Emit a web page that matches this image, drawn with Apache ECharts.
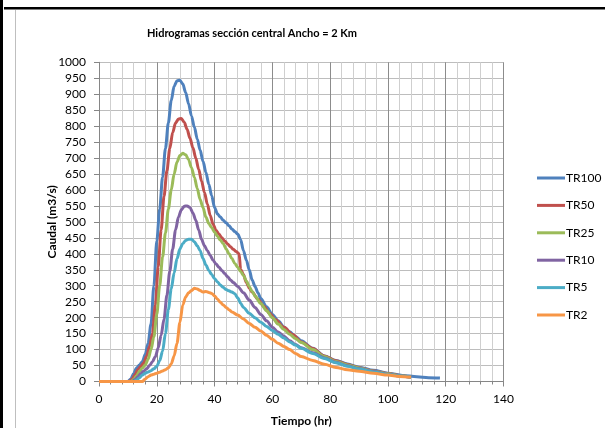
<!DOCTYPE html>
<html><head><meta charset="utf-8">
<script src="https://cdn.jsdelivr.net/npm/echarts@6/dist/echarts.min.js"></script>
<style>html,body{margin:0;padding:0;background:#fff}#c{width:605px;height:428px}</style>
</head><body><div id="c"></div>
<script>
const titleText = 'Hidrogramas sección central Ancho = 2 Km';
const xTitle = 'Tiempo (hr)';
const yTitle = 'Caudal (m3/s)';
const seriesNames = ['TR100', 'TR50', 'TR25', 'TR10', 'TR5', 'TR2'];
const seriesColors = ['#4F81BD', '#C0504D', '#9BBB59', '#8064A2', '#4BACC6', '#F79646'];

const tr100T = [0,10,11,12,13,14,15,16,17,18,19,20,21,22,23,24,25,26,27,28,29,30,31,32,33,34,35,36,37,38,39,40,41,42,43,44,45,46,47,48,49,50,51,52,53,54,55,56,58,60,62,64,66,68,70,74,78,82,86,90,95,100,105,110,114,118];
const tr100Q = [0,0,8,25,42,52,62,85,120,180,300,440,540,640,730,810,880,925,942,944,932,905,870,832,797,760,725,690,655,618,582,545,525,515,505,497,488,478,470,462,445,410,380,350,318,298,278,260,234,210,190,171,156,141,128,104,80,66,55,45,35,26,19,15,12,11];

const tr50T = [0,10.5,11.5,12.5,13.5,14.5,15.5,16.5,17.5,18.5,19.5,20.5,21.5,22.5,23.5,24.5,25.5,26.5,27.5,28.5,29.5,30.5,31.5,32.5,33.5,34.5,35.5,36.5,37.5,38.5,39.5,40.5,41.5,42.5,43.5,44.5,45.5,46.5,47.5,48.5,49,50,51,52,53,55,57,59,61,64,67,70,74,78,82,86,90,95,100,104,108];
const tr50Q = [0,0,8,22,38,48,58,80,110,150,240,360,475,580,660,730,780,810,822,824,812,790,762,732,700,665,628,592,556,520,492,474,462,450,440,431,422,414,407,400,352,335,310,293,280,258,236,214,194,170,147,124,103,80,65,53,43,33,25,19,14];

const tr25T = [0,11,12,13,14,15,16,17,18,19,20,21,22,23,24,25,26,27,28,29,30,31,32,33,34,35,36,37,38,39,40,41,42,43,44,45,46,47,48,49,50,51,52,53,54,56,58,60,62,64,66,68,70,74,78,82,86,90,95,100,104,108];
const tr25Q = [0,0,6,18,32,42,52,70,100,140,210,300,390,465,540,600,650,688,708,715,710,695,670,640,605,570,545,515,495,482,468,455,443,432,415,400,385,370,358,345,332,315,298,282,268,244,222,200,180,163,148,135,122,100,78,63,52,42,32,24,18,14];

const tr10T = [0,11.5,12.5,13.5,14.5,15.5,16.5,17.5,18.5,19.5,20.5,21.5,22.5,23.5,24.5,25.5,26.5,27.5,28.5,29.5,30.5,31.5,32.5,33.5,34.5,35.5,36.5,37.5,38.5,39.5,40.5,41.5,42.5,43.5,44.5,45.5,46.5,48,50,52,54,56,58,60,62,64,66,68,70,74,78,82,86,90,95,100,104,108];
const tr10Q = [0,0,6,15,25,33,40,50,62,78,105,145,195,270,345,415,475,515,538,549,550,545,528,505,475,445,425,410,395,380,368,358,348,338,328,318,310,298,278,255,232,210,190,170,155,142,128,116,106,90,74,60,49,40,31,23,17,13];

const tr5T = [0,12,13,14,15,16,17,18,19,20,21,22,23,24,25,26,27,28,29,30,31,32,33,34,35,36,37,38,39,40,41,42,43,44,45,46,47,48,49,50,52,54,56,58,60,62,64,66,68,70,74,78,82,86,90,95,100,104,108];
const tr5Q = [0,0,5,12,20,26,30,34,40,48,65,95,150,225,290,340,385,415,432,442,446,446,438,425,410,385,365,348,335,322,312,302,295,288,284,280,275,262,245,232,214,200,186,172,160,148,136,124,114,104,88,72,59,48,39,30,22,17,13];

const tr2T = [0,15,16,17,18,19,20,21,22,23,24,25,26,27,28,29,30,31,32,33,34,35,36,37,38,39,40,41,42,43,44,45,46,48,50,52,54,56,58,60,62,64,66,68,70,74,78,82,86,90,95,100,104,108];
const tr2Q = [0,0,8,15,20,23,26,29,33,37,43,55,80,120,185,240,265,278,285,292,290,285,280,282,279,276,268,258,248,240,232,225,218,208,196,182,170,158,145,132,120,110,100,88,78,66,54,44,37,32,26,20,16,13];

const allT = [tr100T, tr50T, tr25T, tr10T, tr5T, tr2T];
const allQ = [tr100Q, tr50Q, tr25Q, tr10Q, tr5Q, tr2Q];

const chart = echarts.init(document.getElementById('c'), null, {renderer: 'canvas'});
const font = 'Lato, Liberation Sans, sans-serif';

const series = seriesNames.map((name, i) => ({
  name: name,
  type: 'line',
  data: allT[i].map((t, k) => [t, allQ[i][k]]),
  symbol: 'none',
  smooth: 0.3,
  smoothMonotone: 'x',
  lineStyle: {width: 3, color: seriesColors[i]},
  itemStyle: {color: seriesColors[i]},
  emphasis: {disabled: true},
  animation: false
}));

chart.setOption({
  backgroundColor: '#ffffff',
  animation: false,
  title: {
    text: titleText,
    left: 247, top: 23, textAlign: 'center',
    textStyle: {fontFamily: font, fontWeight: 'bold', fontSize: 11, color: '#000'}
  },
  legend: {
    orient: 'vertical', left: 532, top: 167,
    icon: 'rect',
    itemWidth: 28, itemHeight: 3, itemGap: 15.4,
    data: seriesNames,
    textStyle: {fontFamily: font, fontSize: 12, color: '#000', padding: [0, 0, 0, -4]}
  },
  grid: {left: 99, right: 101.5, top: 62.3, bottom: 46.5, containLabel: false, outerBoundsMode: 'none'},
  xAxis: {
    type: 'value', min: 0, max: 140, interval: 20,
    name: xTitle, nameLocation: 'middle', nameGap: 34, nameMoveOverlap: false,
    nameTextStyle: {fontFamily: font, fontWeight: 'bold', fontSize: 12, color: '#000'},
    axisLine: {show: true, onZero: false, lineStyle: {color: '#868686', width: 1}},
    axisTick: {show: true, length: 5, lineStyle: {color: '#868686'}},
    minorTick: {show: true, splitNumber: 5, length: 3, lineStyle: {color: '#868686'}},
    axisLabel: {fontFamily: font, fontSize: 12, color: '#000', margin: 12},
    splitLine: {show: true, lineStyle: {color: '#8c8c8c', width: 1}},
    minorSplitLine: {show: true, lineStyle: {color: '#cfcfcf', width: 1}}
  },
  yAxis: {
    type: 'value', min: 0, max: 1000, interval: 50,
    name: yTitle, nameLocation: 'middle', nameGap: 41, nameMoveOverlap: false,
    nameTextStyle: {fontFamily: font, fontWeight: 'bold', fontSize: 12, color: '#000'},
    axisLine: {show: true, lineStyle: {color: '#868686', width: 1}},
    axisTick: {show: true, length: 5, lineStyle: {color: '#868686'}},
    axisLabel: {fontFamily: font, fontSize: 12, color: '#000', margin: 13, formatter: v => String(v)},
    splitLine: {show: true, lineStyle: {color: '#bdbdbd', width: 1}}
  },
  graphic: [
    {type: 'rect', shape: {x: 0, y: 0, width: 3, height: 428}, style: {fill: '#000'}, silent: true},
    {type: 'rect', shape: {x: 4, y: 7, width: 601, height: 2.5}, style: {fill: '#000'}, silent: true},
    {type: 'line', shape: {x1: 15.5, y1: 10, x2: 15.5, y2: 428}, style: {stroke: '#bfbfbf', lineWidth: 1}, silent: true}
  ],
  series: series
});
</script>
</body></html>
